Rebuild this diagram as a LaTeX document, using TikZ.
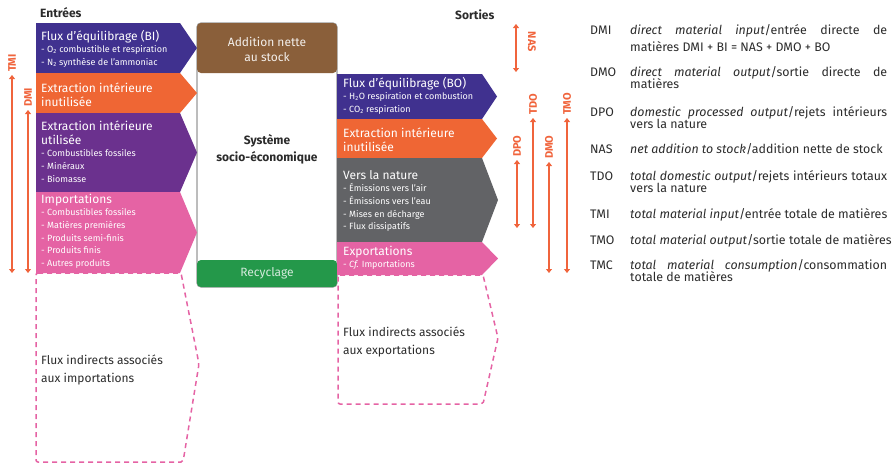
\documentclass[tikz,border=0pt]{standalone}
\usepackage{fontspec}
\setmainfont{Fira Sans}
\usetikzlibrary{arrows.meta,positioning}
\definecolor{ind}{HTML}{40318F}
\definecolor{ora}{HTML}{EF6634}
\definecolor{vio}{HTML}{6B318E}
\definecolor{pnk}{HTML}{E563A4}
\definecolor{gry}{HTML}{626366}
\definecolor{brn}{HTML}{8A5F3A}
\definecolor{grn}{HTML}{24984A}
\definecolor{fle}{HTML}{F0643C}
\definecolor{txt}{HTML}{2B2B2B}
\tikzset{
    titre/.style={white,font=\fontsize{12}{14}\selectfont,inner sep=0pt,anchor=base west},
    detail/.style={white,font=\fontsize{9}{10}\selectfont,inner sep=0pt,anchor=base west},
    sigle/.style={fle,font=\bfseries\fontsize{11}{11}\selectfont,inner sep=0pt},
    mesure/.style={fle,line width=1.1pt,{Triangle[width=6pt,length=4pt]}-{Triangle[width=6pt,length=4pt]}},
    indirect/.style={draw=pnk,line width=1.5pt,dash pattern=on 5pt off 4pt,rounded corners=2pt},
    legende/.style={txt,font=\fontsize{12.4}{12}\selectfont,inner sep=0pt,anchor=base west},
    indtexte/.style={txt,font=\fontsize{12}{14}\selectfont,inner sep=0pt,anchor=base west}
}
% flux en forme de fleche : x gauche, x droite, x pointe, y haut, y bas, couleur
\newcommand{\fleche}[6]{\fill[#6] (#1,#4) -- (#2,#4) -- (#3,{(#4+#5)/2}) -- (#2,#5) -- (#1,#5) -- cycle;}
\newcommand{\ligne}[1]{\makebox[257pt][s]{#1}}

\begin{document}
\begin{tikzpicture}[x=1pt,y=-1pt]
    \useasboundingbox (0,0) rectangle (895,464);
    % systeme central
    \draw[draw=black!40,line width=1.2pt,rounded corners=4pt,fill=white] (197,23) rectangle (337,287);
    \fill[brn,rounded corners=4pt] (197,23) rectangle (337,73);
    \fill[grn,rounded corners=4pt] (197,260) rectangle (337,287);
    \node[white!90!brn,font=\fontsize{12}{15}\selectfont,align=center] (ans) at (267,49) {Addition nette\\au stock};
    \node[white!80!grn,font=\fontsize{12}{14}\selectfont] (recy) at (267,273) {Recyclage};
    \node[txt,font=\bfseries\fontsize{12}{17}\selectfont,align=center] (sys) at (267,149) {Système\\socio-économique};

    % entrees
    \node[txt,font=\bfseries\fontsize{12}{14}\selectfont,anchor=base west,inner sep=0pt] (entrees) at (40,17) {Entrées};
    \fleche{36}{180}{197}{23}{73}{ind}
    \fleche{36}{180}{197}{73}{113}{ora}
    \fleche{36}{180}{197}{113}{192}{vio}
    \fleche{36}{180}{197}{192}{273}{pnk}
    \node[titre] (bi) at (41,40) {Flux d’équilibrage (BI)};
    \foreach \t [count=\i] in {{- O\textsubscript{2} combustible et respiration},{- N\textsubscript{2} synthèse de l’ammoniac}}
        \node[detail] (bi\i) at ([yshift={-12.7*\i}]bi.base west) {\t};
    \node[titre] (eii) at (41,92) {Extraction intérieure};
    \node[titre] (eiiB) at ([yshift=-14]eii.base west) {inutilisée};
    \node[titre] (eiu) at (41,130) {Extraction intérieure};
    \node[titre] (eiuB) at ([yshift=-14]eiu.base west) {utilisée};
    \foreach \t [count=\i] in {- Combustibles fossiles,- Minéraux,- Biomasse}
        \node[detail] (eiu\i) at ([yshift={-12.7*\i}]eiuB.base west) {\t};
    \node[titre] (imp) at (41,203) {Importations};
    \foreach \t [count=\i] in {- Combustibles fossiles,- Matières premières,- Produits semi-finis,- Produits finis,- Autres produits}
        \node[detail] (imp\i) at ([yshift={-12.7*\i}]imp.base west) {\t};
    \draw[indirect] (36,273) -- (181,273) -- (199,364) -- (183,462) -- (36,462) -- cycle;
    \node[indtexte] (indimp) at (41,364) {Flux indirects associés};
    \node[indtexte] (indimpB) at ([yshift=-18]indimp.base west) {aux importations};

    % sorties
    \node[txt,font=\bfseries\fontsize{12}{14}\selectfont,anchor=base west,inner sep=0pt] (sorties) at (455,19) {Sorties};
    \fleche{337}{482}{497}{74}{119}{ind}
    \fleche{337}{482}{497}{119}{158}{ora}
    \fleche{337}{482}{498}{158}{242}{gry}
    \fleche{337}{482}{498}{242}{275}{pnk}
    \node[titre] (bo) at (343,87) {Flux d’équilibrage (BO)};
    \foreach \t [count=\i] in {{- H\textsubscript{2}O respiration et combustion},{- CO\textsubscript{2} respiration}}
        \node[detail] (bo\i) at ([yshift={-12.7*\i}]bo.base west) {\t};
    \node[titre] (eis) at (343,137) {Extraction intérieure};
    \node[titre] (eisB) at ([yshift=-14]eis.base west) {inutilisée};
    \node[titre] (vln) at (343,179) {Vers la nature};
    \foreach \t [count=\i] in {- Émissions vers l’air,- Émissions vers l’eau,- Mises en décharge,- Flux dissipatifs}
        \node[detail] (vln\i) at ([yshift={-12.7*\i}]vln.base west) {\t};
    \node[titre] (exp) at (343,255) {Exportations};
    \node[detail] (exp1) at ([yshift=-12.7]exp.base west) {- \textit{Cf.} Importations};
    \draw[indirect] (338,275) -- (483,275) -- (498,338) -- (483,404) -- (338,404) -- cycle;
    \node[indtexte] (indexp) at (343,336) {Flux indirects associés};
    \node[indtexte] (indexpB) at ([yshift=-18]indexp.base west) {aux exportations};

    % indicateurs
    \coordinate (tmiH) at (12,75);   \coordinate (tmiB) at (12,273);
    \coordinate (dmiH) at (28,110);  \coordinate (dmiB) at (28,273);
    \coordinate (nasH) at (516,24);  \coordinate (nasB) at (516,72);
    \coordinate (dpoH) at (517,160); \coordinate (dpoB) at (517,228);
    \coordinate (tdoH) at (533,118); \coordinate (tdoB) at (533,228);
    \coordinate (dmoH) at (549,162); \coordinate (dmoB) at (549,273);
    \coordinate (tmoH) at (567,118); \coordinate (tmoB) at (567,273);
    \foreach \m in {tmi,dmi,nas,dpo,tdo,dmo,tmo}
        \draw[mesure] (\m H) -- (\m B);
    \node[sigle,rotate=90,anchor=west] (tmi) at ([yshift=3]tmiH) {TMI};
    \node[sigle,rotate=90,anchor=west] (dmi) at ([yshift=3]dmiH) {DMI};
    \node[sigle,rotate=-90] (nas) at (532,42) {NAS};
    \node[sigle,rotate=90,anchor=west] (dpo) at ([yshift=3]dpoH) {DPO};
    \node[sigle,rotate=90,anchor=west] (tdo) at ([yshift=3]tdoH) {TDO};
    \node[sigle,rotate=90,anchor=west] (dmo) at ([yshift=3]dmoH) {DMO};
    \node[sigle,rotate=90,anchor=west] (tmo) at ([yshift=3]tmoH) {TMO};

    % legende
    \node[legende] (lDMI) at (590,34) {DMI};
    \node[legende] (dDMI) at (630,34) {\ligne{\textit{direct material input}/entrée directe de}};
    \node[legende] (dDMI2) at (630,51) {matières DMI + BI = NAS + DMO + BO};
    \node[legende] (lDMO) at (590,76) {DMO};
    \node[legende] (dDMO) at (630,76) {\ligne{\textit{direct material output}/sortie directe de}};
    \node[legende] (dDMO2) at (630,88) {matières};
    \node[legende] (lDPO) at (590,116) {DPO};
    \node[legende] (dDPO) at (630,116) {\ligne{\textit{domestic processed output}/rejets intérieurs}};
    \node[legende] (dDPO2) at (630,128) {vers la nature};
    \node[legende] (lNAS) at (590,153) {NAS};
    \node[legende] (dNAS) at (630,153) {\textit{net addition to stock}/addition nette de stock};
    \node[legende] (lTDO) at (590,180) {TDO};
    \node[legende] (dTDO) at (630,180) {\ligne{\textit{total domestic output}/rejets intérieurs totaux}};
    \node[legende] (dTDO2) at (630,192) {vers la nature};
    \node[legende] (lTMI) at (590,218) {TMI};
    \node[legende] (dTMI) at (630,218) {\textit{total material input}/entrée totale de matières};
    \node[legende] (lTMO) at (590,244) {TMO};
    \node[legende] (dTMO) at (630,244) {\textit{total material output}/sortie totale de matières};
    \node[legende] (lTMC) at (590,269) {TMC};
    \node[legende] (dTMC) at (630,269) {\ligne{\textit{total material consumption}/consommation}};
    \node[legende] (dTMC2) at (630,281) {totale de matières};
\end{tikzpicture}
\end{document}
